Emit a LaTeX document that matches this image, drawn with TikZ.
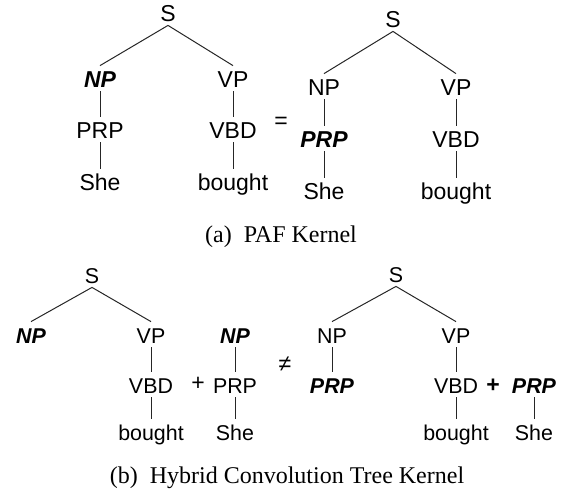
\documentclass[tikz,border=0pt]{standalone}
\usepackage{fontspec}
\setmainfont{Liberation Serif}
\setsansfont{Liberation Sans}
\usepackage{tikz}
\newcommand{\marked}[1]{\textbf{\textit{#1}}}
\tikzset{
    lab/.style={font=\sffamily\fontsize{11.5}{13}\selectfont, inner sep=0.5pt, text height=1em, text depth=0.15em, anchor=base},
    labsm/.style={lab, font=\sffamily\fontsize{10.7}{12}\selectfont},
    branch/.style={draw=black!85, line width=0.5pt},
    capt/.style={font=\fontsize{12}{14}\selectfont, anchor=base, inner sep=0pt}
}

\begin{document}
\begin{tikzpicture}[x=0.5pt, y=-0.5pt]
    \useasboundingbox (0,0) rectangle (563,495);

    \node[lab] (s1) at (168,21) {S};
    \node[lab] (np1) at (100,87) {\marked{NP}};
    \node[lab] (vp1) at (233,87) {VP};
    \node[lab] (prp1) at (100,138) {PRP};
    \node[lab] (vbd1) at (233,138) {VBD};
    \node[lab] (she1) at (100,190) {She};
    \node[lab] (bought1) at (233,190) {bought};
    \draw[branch] (s1.south) -- (np1.north);
    \draw[branch] (s1.south) -- (vp1.north);
    \draw[branch] (np1) -- (prp1);
    \draw[branch] (prp1) -- (she1);
    \draw[branch] (vp1) -- (vbd1);
    \draw[branch] (vbd1) -- (bought1);

    \node[lab, anchor=center, text height=, text depth=] (eq) at (281,123) {=};

    \node[lab] (s2) at (393,27) {S};
    \node[lab] (np2) at (324,95) {NP};
    \node[lab] (vp2) at (456,95) {VP};
    \node[lab] (prp2) at (324,147) {\marked{PRP}};
    \node[lab] (vbd2) at (456,147) {VBD};
    \node[lab] (she2) at (324,199) {She};
    \node[lab] (bought2) at (456,199) {bought};
    \draw[branch] (s2.south) -- (np2.north);
    \draw[branch] (s2.south) -- (vp2.north);
    \draw[branch] (np2) -- (prp2);
    \draw[branch] (prp2) -- (she2);
    \draw[branch] (vp2) -- (vbd2);
    \draw[branch] (vbd2) -- (bought2);

    \node[capt] (capa) at (281,242) {(a)\ \ PAF Kernel};

    \node[labsm] (s3) at (92,283) {S};
    \node[labsm] (np3) at (31,343) {\marked{NP}};
    \node[labsm] (vp3) at (151,343) {VP};
    \node[labsm] (vbd3) at (151,393) {VBD};
    \node[labsm] (bought3) at (151,440) {bought};
    \draw[branch] (s3.south) -- (np3.north);
    \draw[branch] (s3.south) -- (vp3.north);
    \draw[branch] (vp3) -- (vbd3);
    \draw[branch] (vbd3) -- (bought3);

    \node[lab, anchor=center, text height=, text depth=] (plus1) at (198,384) {+};

    \node[labsm] (np4) at (235,343) {\marked{NP}};
    \node[labsm] (prp4) at (235,393) {PRP};
    \node[labsm] (she4) at (235,440) {She};
    \draw[branch] (np4) -- (prp4);
    \draw[branch] (prp4) -- (she4);

    \node[lab, anchor=center, text height=, text depth=] (neq) at (285,364) {≠};

    \node[labsm] (s5) at (396,282) {S};
    \node[labsm] (np5) at (332,343) {NP};
    \node[labsm] (vp5) at (456,343) {VP};
    \node[labsm] (prp5) at (332,393) {\marked{PRP}};
    \node[labsm] (vbd5) at (456,393) {VBD};
    \node[labsm] (bought5) at (456,440) {bought};
    \draw[branch] (s5.south) -- (np5.north);
    \draw[branch] (s5.south) -- (vp5.north);
    \draw[branch] (np5) -- (prp5);
    \draw[branch] (vp5) -- (vbd5);
    \draw[branch] (vbd5) -- (bought5);

    \node[lab, anchor=center, text height=, text depth=] (plus2) at (493,386) {\textbf{+}};

    \node[labsm] (prp6) at (534,393) {\marked{PRP}};
    \node[labsm] (she6) at (534,440) {She};
    \draw[branch] (prp6) -- (she6);

    \node[capt] (capb) at (287,483) {(b)\ \ Hybrid Convolution Tree Kernel};
\end{tikzpicture}
\end{document}
